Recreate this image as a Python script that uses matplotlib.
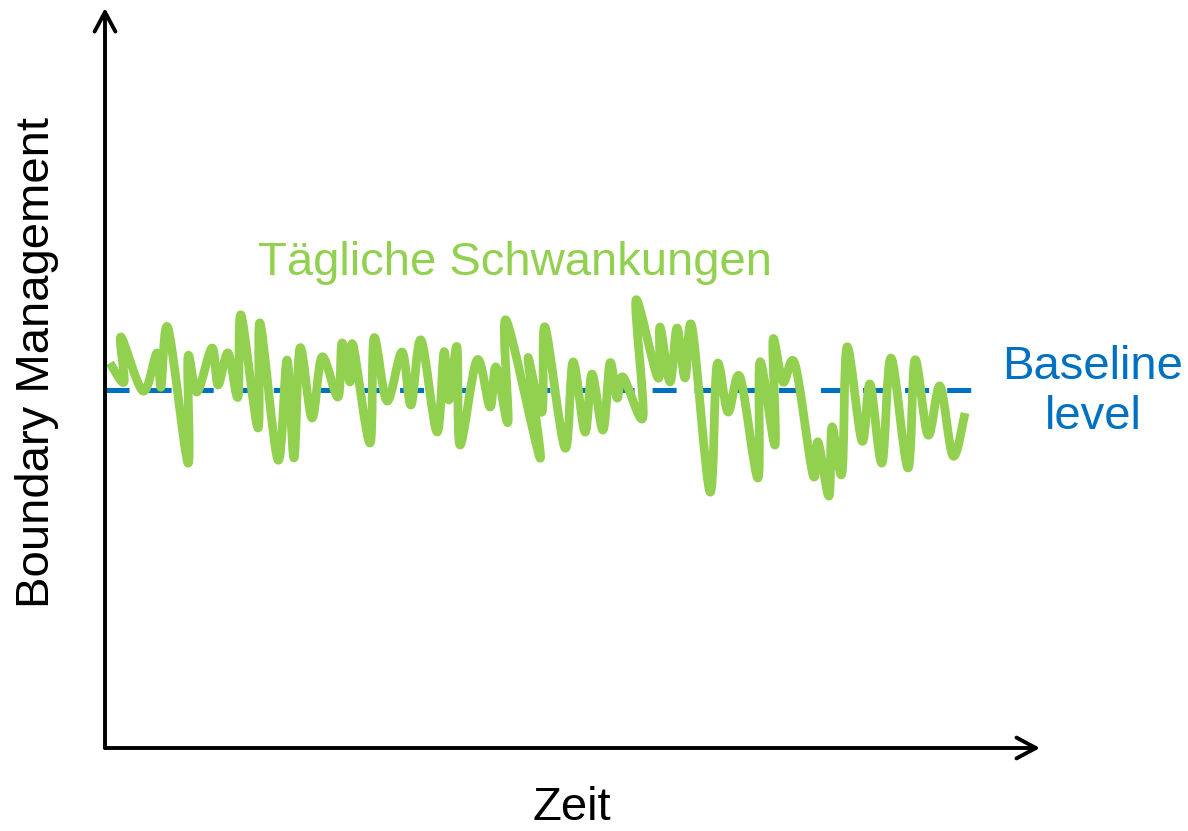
import matplotlib
matplotlib.use("Agg")
import matplotlib.pyplot as plt
from matplotlib.path import Path
from matplotlib.patches import PathPatch
import numpy as np

plt.rcParams['font.family'] = ['Liberation Sans', 'DejaVu Sans']
plt.rcParams['lines.scale_dashes'] = False

# --- data (arbitrary units) ---
time = [5, 19, 16, 38, 52, 56, 63, 83, 83, 92, 107, 113, 123, 133, 136, 153, 155, 173,
        182, 189, 195, 207, 217, 233, 237, 245, 248, 265, 269, 282, 297, 306, 316, 332,
        339, 344, 352, 355, 372, 385, 391, 403, 401, 435, 423, 437, 440, 460, 468, 480,
        487, 498, 505, 512, 518, 538, 531, 553, 555, 565, 572, 580, 587, 605, 612, 623,
        635, 653, 655, 670, 668, 678, 690, 708, 713, 724, 727, 737, 742, 757, 765, 777,
        786, 803, 810, 823, 835, 848, 860]
level = [385, 366, 411, 357, 395, 361, 420, 285, 391, 356, 400, 363, 395, 351, 433, 320,
         425, 288, 388, 290, 400, 330, 391, 351, 405, 366, 403, 305, 410, 347, 396, 343,
         408, 316, 396, 348, 401, 303, 388, 341, 381, 326, 428, 290, 390, 336, 421, 300,
         386, 316, 374, 318, 385, 350, 371, 331, 448, 370, 421, 366, 420, 370, 421, 256,
         383, 336, 371, 270, 386, 303, 408, 366, 384, 273, 306, 252, 321, 275, 401, 307,
         364, 285, 390, 280, 388, 313, 362, 292, 335]
baseline_level = 358
time_end = 872

title_text = "Tägliche Schwankungen"
baseline_label = "Baseline\nlevel"
xlabel = "Zeit"
ylabel = "Boundary Management"

GREEN = '#92D050'
BLUE = '#0070C0'

W, H = 1188, 831
fig = plt.figure(figsize=(W / 100, H / 100), dpi=100)
ax = fig.add_axes([105 / W, 83 / H, 935 / W, 740 / H])
ax.set_xlim(0, 935)
ax.set_ylim(0, 740)
ax.axis('off')

# baseline dashed line
ax.hlines(baseline_level, 0, time_end, colors=BLUE, linewidth=3.6,
          linestyles=(0, (17.3, 13)), zorder=2)

# smoothed daily fluctuation line (Catmull-Rom rendered as cubic Bezier)
P = np.column_stack([time, level]).astype(float)
n = len(P)
verts = [P[0]]
codes = [Path.MOVETO]
for i in range(n - 1):
    p0 = P[i - 1] if i > 0 else P[i]
    p1 = P[i]
    p2 = P[i + 1]
    p3 = P[i + 2] if i + 2 < n else P[i + 1]
    c1 = p1 + (p2 - p0) / 6.0
    c2 = p2 - (p3 - p1) / 6.0
    verts += [c1, c2, p2]
    codes += [Path.CURVE4] * 3
patch = PathPatch(Path(verts, codes), facecolor='none', edgecolor=GREEN,
                  linewidth=6.3, joinstyle='round', capstyle='butt', zorder=3)
ax.add_patch(patch)

# axes arrows
arrow_kw = dict(arrowstyle='->,head_length=1.4,head_width=0.75', color='black',
                lw=2.8, shrinkA=0, shrinkB=0, mutation_scale=10)
ax.annotate('', xy=(0, 1), xytext=(0, 0), xycoords='axes fraction',
            textcoords='axes fraction', arrowprops=arrow_kw, annotation_clip=False)
ax.annotate('', xy=(1, 0), xytext=(0, 0), xycoords='axes fraction',
            textcoords='axes fraction', arrowprops=arrow_kw, annotation_clip=False)

# texts
fig.text(37 / W, 1 - 363 / H, ylabel, rotation=90, ha='center', va='center',
         fontsize=34, color='black')
fig.text(572 / W, 1 - 808 / H, xlabel, ha='center', va='center',
         fontsize=34, color='black')
fig.text(515 / W, 1 - 263 / H, title_text, ha='center', va='center',
         fontsize=34, color=GREEN)
fig.text(1093 / W, 1 - 392 / H, baseline_label, ha='center', va='center',
         fontsize=34, color=BLUE, linespacing=1.2)

fig.savefig('out.png', dpi=100)
